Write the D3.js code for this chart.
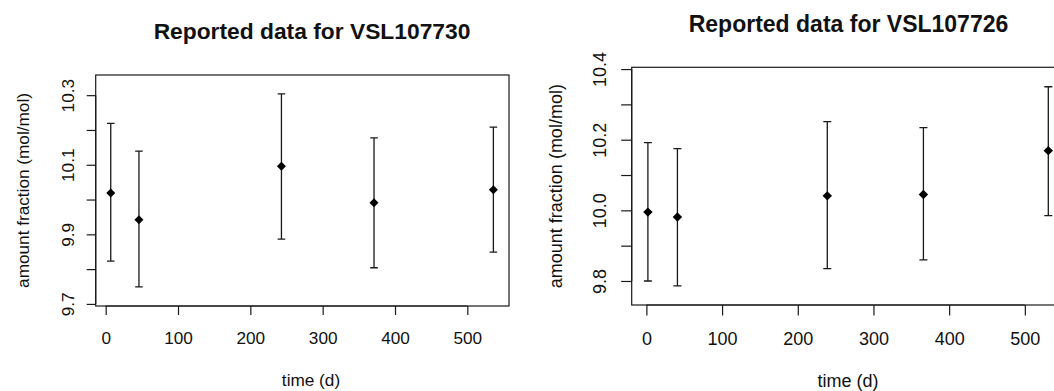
<!DOCTYPE html>
<html>
<head>
<meta charset="utf-8">
<script src="https://cdn.jsdelivr.net/npm/d3@7"></script>
<style>
  html, body { margin: 0; padding: 0; background: #fff; }
  svg { display: block; }
  text { font-family: "Liberation Sans", Arial, Helvetica, sans-serif; fill: #111; }
</style>
</head>
<body>
<svg id="chart" width="1054" height="391"></svg>
<script>
// ---- Data: left panel (VSL107730) ----
const titleL = "Reported data for VSL107730";
const timesL = [7, 46, 243, 371, 536];
const valuesL = [10.019, 9.942, 10.096, 9.991, 10.028];
const upperL = [10.219, 10.139, 10.304, 10.177, 10.208];
const lowerL = [9.823, 9.749, 9.886, 9.804, 9.849];
const yTicksL = [9.7, 9.8, 9.9, 10.0, 10.1, 10.2, 10.3];
const yLabelsL = ["9.7", "", "9.9", "", "10.1", "", "10.3"];

// ---- Data: right panel (VSL107726) ----
const titleR = "Reported data for VSL107726";
const timesR = [2, 41, 239, 366, 531];
const valuesR = [9.995, 9.981, 10.041, 10.045, 10.169];
const upperR = [10.192, 10.175, 10.251, 10.234, 10.350];
const lowerR = [9.800, 9.786, 9.835, 9.860, 9.985];
const yTicksR = [9.8, 9.9, 10.0, 10.1, 10.2, 10.3, 10.4];
const yLabelsR = ["9.8", "", "10.0", "", "10.2", "", "10.4"];

const xTicks = [0, 100, 200, 300, 400, 500];
const xLabels = ["0", "100", "200", "300", "400", "500"];
const xTitle = "time (d)";
const yTitle = "amount fraction (mol/mol)";

const svg = d3.select("#chart");

function panel(cfg) {
  const g = svg.append("g");
  const x = d3.scaleLinear().domain(cfg.xDomain).range([cfg.left, cfg.right]);
  const y = d3.scaleLinear().domain(cfg.yDomain).range([cfg.bottom, cfg.top]);
  const fs = cfg.fs;

  // box
  g.append("rect")
    .attr("x", cfg.left).attr("y", cfg.top)
    .attr("width", cfg.right - cfg.left).attr("height", cfg.bottom - cfg.top)
    .attr("fill", "none").attr("stroke", "#1a1a1a").attr("stroke-width", 1.2);

  // x axis
  const xa = g.append("g").attr("transform", `translate(0,${cfg.bottom})`)
    .call(d3.axisBottom(x).tickValues(cfg.xTicks)
      .tickFormat((d, i) => cfg.xLabels[i]).tickSize(cfg.tick).tickSizeOuter(0));
  xa.select(".domain").attr("stroke", "#1a1a1a").attr("stroke-width", 1.2)
    .attr("d", `M${x(cfg.xTicks[0])},0H${x(cfg.xTicks[cfg.xTicks.length - 1])}`);
  xa.selectAll(".tick line").attr("stroke", "#1a1a1a").attr("stroke-width", 1.2);
  xa.selectAll(".tick text")
    .attr("y", cfg.xLabGap).attr("dy", 0)
    .style("font-size", fs + "px").attr("fill", "#111");

  // y axis
  const ya = g.append("g").attr("transform", `translate(${cfg.left},0)`)
    .call(d3.axisLeft(y).tickValues(cfg.yTicks)
      .tickFormat((d, i) => cfg.yLabels[i]).tickSize(cfg.tick).tickSizeOuter(0));
  ya.select(".domain").attr("stroke", "#1a1a1a").attr("stroke-width", 1.2)
    .attr("d", `M0,${y(cfg.yTicks[0])}V${y(cfg.yTicks[cfg.yTicks.length - 1])}`);
  ya.selectAll(".tick line").attr("stroke", "#1a1a1a").attr("stroke-width", 1.2);
  ya.selectAll(".tick text")
    .attr("transform", "rotate(-90)")
    .attr("x", 0).attr("y", -cfg.yLabGap).attr("dy", 0)
    .attr("text-anchor", "middle")
    .style("font-size", fs + "px").attr("fill", "#111");

  // error bars
  const eb = g.append("g").attr("stroke", "#1a1a1a").attr("stroke-width", 1.3).attr("fill", "none");
  const idx = d3.range(cfg.times.length);
  eb.selectAll("path").data(idx).join("path")
    .attr("d", i => {
      const cx = x(cfg.times[i]), yu = y(cfg.upper[i]), yl = y(cfg.lower[i]), c = cfg.cap;
      return `M${cx},${yu}V${yl}M${cx - c},${yu}H${cx + c}M${cx - c},${yl}H${cx + c}`;
    });

  // points (filled diamonds)
  g.append("g").selectAll("path").data(idx).join("path")
    .attr("d", i => {
      const cx = x(cfg.times[i]), cy = y(cfg.values[i]), r = cfg.pt;
      return `M${cx},${cy - r}L${cx + r},${cy}L${cx},${cy + r}L${cx - r},${cy}Z`;
    })
    .attr("fill", "#000");

  // titles
  g.append("text").attr("x", cfg.titleX).attr("y", cfg.titleY)
    .attr("text-anchor", "middle").style("font-size", cfg.titleFs + "px")
    .style("font-weight", "bold").attr("fill", "#000").text(cfg.title);
  g.append("text").attr("x", cfg.xTitleX).attr("y", cfg.xTitleY)
    .attr("text-anchor", "middle").style("font-size", fs + "px").text(xTitle);
  g.append("text")
    .attr("transform", `translate(${cfg.yTitleX},${(cfg.top + cfg.bottom) / 2}) rotate(-90)`)
    .attr("text-anchor", "middle").style("font-size", fs + "px").text(yTitle);
}

panel({
  title: titleL, times: timesL, values: valuesL, upper: upperL, lower: lowerL,
  yTicks: yTicksL, yLabels: yLabelsL, xTicks: xTicks, xLabels: xLabels,
  xDomain: [-13.8, 557.6], yDomain: [9.694, 10.358],
  left: 95.7, right: 509, top: 75, bottom: 306,
  tick: 9, xLabGap: 38, yLabGap: 21.5, fs: 17.2, cap: 3.8, pt: 4.5,
  titleX: 312, titleY: 38.5, titleFs: 22.8,
  xTitleX: 311, xTitleY: 386, yTitleX: 29
});

panel({
  title: titleR, times: timesR, values: valuesR, upper: upperR, lower: lowerR,
  yTicks: yTicksR, yLabels: yLabelsR, xTicks: xTicks, xLabels: xLabels,
  xDomain: [-19.4, 552.4], yDomain: [9.732, 10.405],
  left: 631.7, right: 1064.5, top: 67.3, bottom: 305,
  tick: 10.5, xLabGap: 40, yLabGap: 25.5, fs: 18, cap: 4, pt: 4.7,
  titleX: 848.5, titleY: 32, titleFs: 23,
  xTitleX: 848, xTitleY: 386.5, yTitleX: 561.5
});
</script>
</body>
</html>
